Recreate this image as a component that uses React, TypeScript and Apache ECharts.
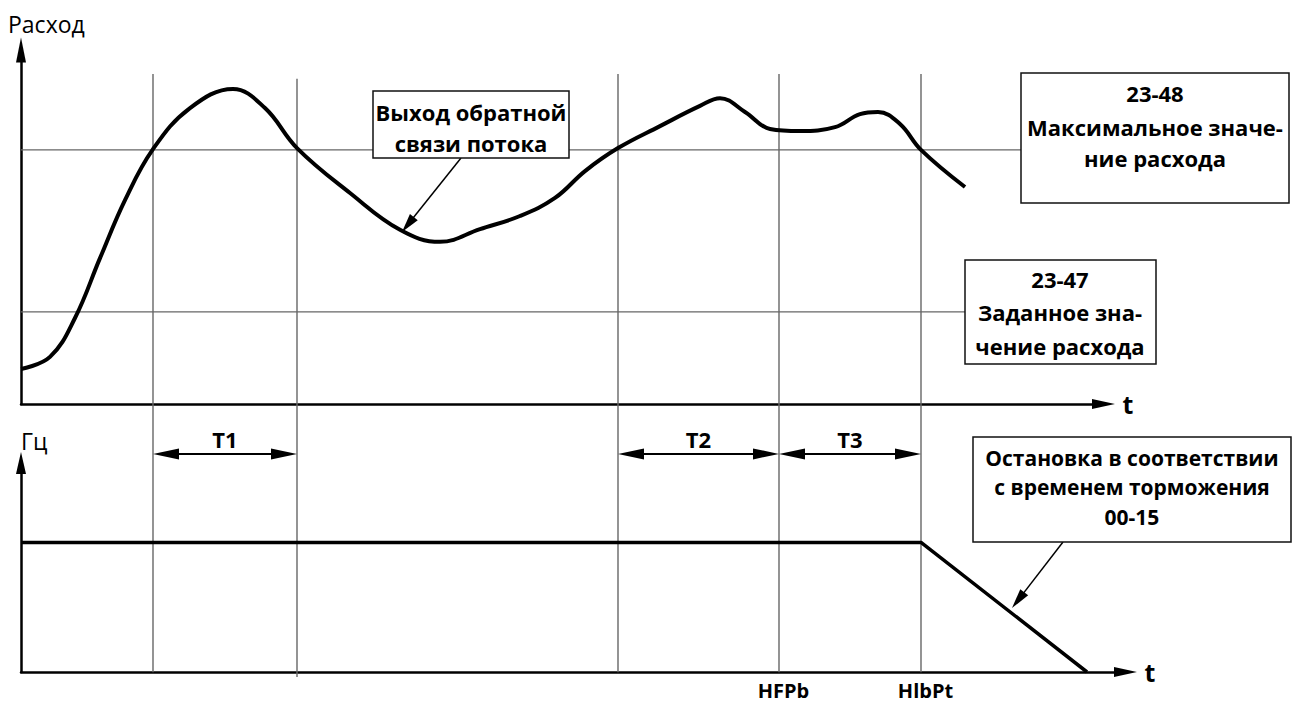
import React, { useEffect, useRef } from "react";
import * as echarts from "echarts";

// ---- data (time units / relative flow & frequency units) ----
const flowTime = [0, 2.9, 5.4, 7.9, 10.4, 13.2, 16.9, 21.2, 24.4, 27.6, 32.9, 37.9, 41.9, 45.9, 49.9, 53.4, 56.4, 59.7, 63.9, 67.9, 69.9, 72.4, 74.9, 77.9, 81.4, 83.9, 85.7, 87.9, 90.0, 94.4];
const flowValue = [9.9, 13.3, 24.3, 41.2, 57.6, 72.0, 83.6, 89.0, 83.6, 72.3, 59.6, 49.2, 45.8, 49.4, 53.1, 58.2, 65.8, 72.3, 78.5, 84.2, 86.4, 82.5, 77.7, 77.1, 78.2, 81.9, 82.5, 79.1, 71.8, 61.3];
const maxFlow = 71.8;
const setFlow = 26.0;
const maxLineEnd = 100;
const setLineEnd = 94.4;
const freqTime = [0, 90.0, 106.6];
const freqValue = [62, 62, 0];
const markerTimes = [13.2, 27.6, 59.7, 75.8, 90.0];
const markerTop = [1, 0.992, 1, 1, 1];
const markerBottom = [0.008, 0, 0.008, 0.008, 0.008];
const periodLabels = ["T1", "T2", "T3"];
const periodSpans = [[0, 1], [2, 3], [3, 4]];
const periodLevel = 0.37;
const stopLabels = ["HFPb", "HlbPt"];
const stopMarkers = [75.8, 90.0];
const feedbackTip = [38.1, 48.6];
const brakeTip = [99.1, 30.6];

const FONT = '"Open Sans", "Noto Sans", sans-serif';

function arrowEls(p1: number[], p2: number[], len: number, w: number, both: boolean, lw: number) {
  const dx = p2[0] - p1[0];
  const dy = p2[1] - p1[1];
  const L = Math.hypot(dx, dy);
  const ux = dx / L, uy = dy / L;
  const nx = -uy, ny = ux;
  const head = (tip: number[], d: number[]) => ({
    type: "polygon",
    z: 20,
    shape: {
      points: [
        [tip[0], tip[1]],
        [tip[0] - d[0] * len + nx * w / 2, tip[1] - d[1] * len + ny * w / 2],
        [tip[0] - d[0] * len - nx * w / 2, tip[1] - d[1] * len - ny * w / 2],
      ],
    },
    style: { fill: "#000" },
  });
  const a = both ? [p1[0] + ux * len * 0.8, p1[1] + uy * len * 0.8] : p1;
  const b = [p2[0] - ux * len * 0.8, p2[1] - uy * len * 0.8];
  const els: any[] = [
    { type: "line", z: 19, shape: { x1: a[0], y1: a[1], x2: b[0], y2: b[1] }, style: { stroke: "#000", lineWidth: lw } },
    head(p2, [ux, uy]),
  ];
  if (both) els.push(head(p1, [-ux, -uy]));
  return els;
}

function txt(text: string, x: number, y: number, size: number, bold: boolean, align = "center") {
  return {
    type: "text",
    z: 30,
    style: {
      text,
      x,
      y,
      fill: "#000",
      fontFamily: FONT,
      fontSize: size,
      fontWeight: bold ? "bold" : "normal",
      align,
      verticalAlign: "middle",
    },
  };
}

function box(x: number, y: number, w: number, h: number) {
  return {
    type: "rect",
    z: 25,
    shape: { x, y, width: w, height: h },
    style: { fill: "#fff", stroke: "#111", lineWidth: 1.5 },
  };
}

export default function App() {
  const ref = useRef<HTMLDivElement>(null);
  useEffect(() => {
    const chart = echarts.init(ref.current!, null, { renderer: "svg" });
    const axisArrow = (size: number[]) => ({
      show: true,
      lineStyle: { color: "#000", width: 2.5 },
      symbol: ["none", "triangle"],
      symbolSize: size,
    });
    const hidden = { axisTick: { show: false }, axisLabel: { show: false }, splitLine: { show: false } };
    const nameStyle = { fontFamily: FONT, fontWeight: "bold", fontSize: 25, color: "#000" };

    const series: any[] = [
      {
        type: "line", xAxisIndex: 0, yAxisIndex: 0, z: 2, showSymbol: false, silent: true,
        data: [[0, maxFlow], [maxLineEnd, maxFlow]], lineStyle: { color: "#666", width: 1.2 },
      },
      {
        type: "line", xAxisIndex: 0, yAxisIndex: 0, z: 2, showSymbol: false, silent: true,
        data: [[0, setFlow], [setLineEnd, setFlow]], lineStyle: { color: "#666", width: 1.2 },
      },
      {
        type: "line", xAxisIndex: 0, yAxisIndex: 0, z: 5, showSymbol: false, smooth: 0.4, silent: true,
        data: flowTime.map((t, i) => [t, flowValue[i]]), lineStyle: { color: "#000", width: 4 },
      },
      {
        type: "line", xAxisIndex: 1, yAxisIndex: 1, z: 5, showSymbol: false, silent: true,
        data: freqTime.map((t, i) => [t, freqValue[i]]), lineStyle: { color: "#000", width: 3.5 },
      },
      ...markerTimes.map((t, i) => ({
        type: "line", xAxisIndex: 2, yAxisIndex: 2, z: 1, showSymbol: false, silent: true,
        data: [[t, markerBottom[i]], [t, markerTop[i]]], lineStyle: { color: "#666", width: 1.4 },
      })),
    ];

    chart.setOption({
      animation: false,
      backgroundColor: "#fff",
      grid: [
        { left: 21, top: 50, width: 1082.5, height: 354 },
        { left: 21, top: 463, width: 1104.5, height: 209 },
        { left: 21, top: 74, width: 1082.5, height: 603 },
      ],
      xAxis: [
        {
          gridIndex: 0, type: "value", min: 0, max: 108.25, ...hidden,
          axisLine: axisArrow([10, 23]),
          name: "t", nameLocation: "end", nameGap: 19, nameTextStyle: nameStyle,
        },
        {
          gridIndex: 1, type: "value", min: 0, max: 110.45,
          axisTick: { show: false }, splitLine: { show: false },
          axisLabel: {
            show: true, customValues: stopMarkers, margin: 8, padding: [0, 0, 0, 9],
            lineHeight: 20,
            formatter: (v: number) => stopLabels[stopMarkers.indexOf(v)] ?? "",
            fontFamily: FONT, fontWeight: "bold", fontSize: 20, color: "#000",
          },
          axisLine: axisArrow([10, 23]),
          name: "t", nameLocation: "end", nameGap: 19, nameTextStyle: nameStyle,
        },
        { gridIndex: 2, type: "value", min: 0, max: 108.25, show: false },
      ],
      yAxis: [
        { gridIndex: 0, type: "value", min: 0, max: 100, ...hidden, axisLine: axisArrow([10, 25]) },
        { gridIndex: 1, type: "value", min: 0, max: 100, ...hidden, axisLine: axisArrow([10, 22]) },
        { gridIndex: 2, type: "value", min: 0, max: 1, show: false },
      ],
      series,
    });

    const px = (g: number, p: number[]) => chart.convertToPixel({ gridIndex: g } as any, p) as number[];
    const graphics: any[] = [];
    graphics.push(txt("Расход", 8, 24, 23, false, "left"));
    graphics.push(txt("Гц", 21, 441, 23, false, "left"));

    periodSpans.forEach((s, i) => {
      const a = px(2, [markerTimes[s[0]], periodLevel]);
      const b = px(2, [markerTimes[s[1]], periodLevel]);
      graphics.push(...arrowEls(a, b, 26, 11, true, 2));
      graphics.push(txt(periodLabels[i], (a[0] + b[0]) / 2, a[1] - 15, 22, true));
    });

    // feedback box
    graphics.push(box(373, 91, 196, 67));
    graphics.push(txt("Выход обратной", 471, 112, 22, true));
    graphics.push(txt("связи потока", 471, 143, 22, true));
    graphics.push(...arrowEls([461, 158], px(0, feedbackTip), 19, 10, false, 1.5));

    // max flow box
    graphics.push(box(1021, 73, 268, 130));
    graphics.push(txt("23-48", 1155, 93, 22, true));
    graphics.push(txt("Максимальное значе-", 1155, 127, 22, true));
    graphics.push(txt("ние расхода", 1155, 158, 22, true));

    // set flow box
    graphics.push(box(965, 260, 191, 104));
    graphics.push(txt("23-47", 1060, 279, 22, true));
    graphics.push(txt("Заданное зна-", 1060, 312, 22, true));
    graphics.push(txt("чение расхода", 1060, 346, 22, true));

    // stop box
    graphics.push(box(973, 437, 318, 105));
    graphics.push(txt("Остановка в соответствии", 1132, 458, 21, true));
    graphics.push(txt("с временем торможения", 1132, 487, 21, true));
    graphics.push(txt("00-15", 1132, 517, 21, true));
    graphics.push(...arrowEls([1063, 542], px(1, brakeTip), 20, 10, false, 1.5));

    chart.setOption({ graphic: graphics });

    return () => chart.dispose();
  }, []);
  return (
    <div
      ref={ref}
      style={{ position: "fixed", left: 0, top: 0, width: 1298, height: 706, background: "#fff" }}
    />
  );
}
